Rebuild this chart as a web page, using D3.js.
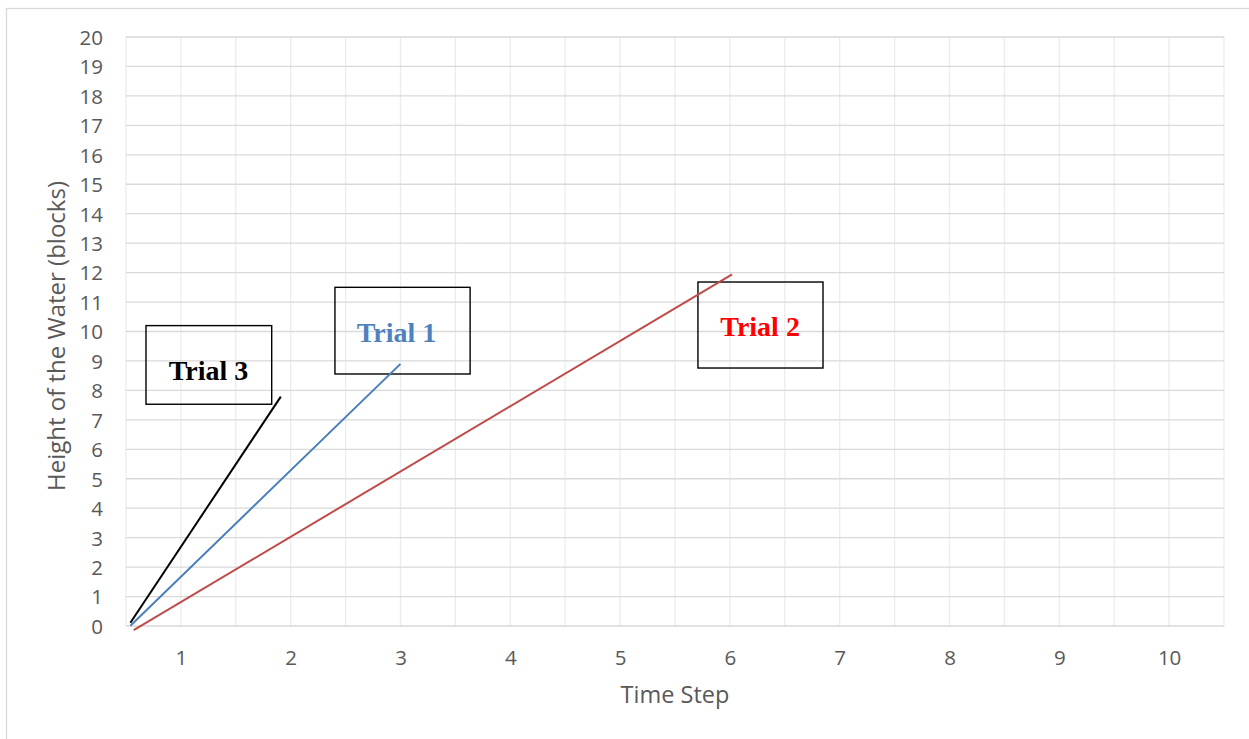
<!DOCTYPE html>
<html>
<head>
<meta charset="utf-8">
<script src="https://cdn.jsdelivr.net/npm/d3@7/dist/d3.min.js"></script>
<style>
  html, body { margin: 0; padding: 0; background: #fff; }
  svg { display: block; }
</style>
</head>
<body>
<svg id="chart" width="1249" height="739"></svg>
<script>
// ---- data ----
const categories = [1, 2, 3, 4, 5, 6, 7, 8, 9, 10];
const yTicks = d3.range(0, 21);
const seriesNames = ["Trial 1", "Trial 2", "Trial 3"];
const trial1 = [[0.54, 0.01], [3.0, 8.9]];
const trial2 = [[0.57, -0.14], [6.02, 11.94]];
const trial3 = [[0.54, 0.11], [1.91, 7.79]];
// annotation boxes in data units: [x0, x1, yTop, yBottom, textX, textY]
const annotTrial1 = [2.403, 3.634, 11.50, 8.557, 2.964, 9.654];
const annotTrial2 = [5.709, 6.848, 11.68, 8.76, 6.275, 9.847];
const annotTrial3 = [0.682, 1.827, 10.2, 7.53, 1.252, 8.353];
const xTitle = "Time Step";
const yTitle = "Height of the Water (blocks)";

// ---- layout ----
const svg = d3.select("#chart");
const pLeft = 126, pRight = 1224, pTop = 37, pBottom = 626;
const x = d3.scaleLinear().domain([0.5, 10.5]).range([pLeft, pRight]);
const y = d3.scaleLinear().domain([0, 20]).range([pBottom, pTop]);

// outer chart border
svg.append("rect").attr("x", 6.5).attr("y", 8.5).attr("width", 1400).attr("height", 900)
  .attr("fill", "none").attr("stroke", "#d9d9d9").attr("stroke-width", 1.3);

// vertical gridlines
const vGrid = d3.range(0.5, 10.51, 0.5);
svg.append("g").selectAll("line").data(vGrid).join("line")
  .attr("x1", d => x(d)).attr("x2", d => x(d))
  .attr("y1", pTop).attr("y2", pBottom)
  .attr("stroke", "#ececec").attr("stroke-width", 1.3);

// horizontal gridlines
svg.append("g").selectAll("line").data(yTicks).join("line")
  .attr("x1", pLeft).attr("x2", pRight)
  .attr("y1", d => y(d)).attr("y2", d => y(d))
  .attr("stroke", "#d9d9d9").attr("stroke-width", 1.3);

// y axis labels
const yAxis = d3.axisLeft(y).tickValues(yTicks).tickSize(0).tickPadding(0);
const gy = svg.append("g").attr("transform", `translate(${103},0)`).call(yAxis);
gy.select(".domain").remove();
gy.selectAll("text").attr("font-family", "'Open Sans', sans-serif").attr("font-size", 20.5)
  .attr("fill", "#595959").attr("dy", "0.36em");

// x axis labels
const xAxis = d3.axisBottom(x).tickValues(categories).tickSize(0).tickPadding(0).tickFormat(d3.format("d"));
const gx = svg.append("g").attr("transform", `translate(0,${650})`).call(xAxis);
gx.select(".domain").remove();
gx.selectAll("text").attr("font-family", "'Open Sans', sans-serif").attr("font-size", 20.5)
  .attr("fill", "#595959").attr("dy", "0.72em");

// axis titles
svg.append("text").attr("x", (pLeft + pRight) / 2).attr("y", 703)
  .attr("text-anchor", "middle").attr("font-family", "'Open Sans', sans-serif")
  .attr("font-size", 23.5).attr("fill", "#595959").text(xTitle);
svg.append("text").attr("transform", `translate(65,336) rotate(-90)`)
  .attr("text-anchor", "middle").attr("font-family", "'Open Sans', sans-serif")
  .attr("font-size", 24).attr("fill", "#595959").text(yTitle);

// annotation boxes
const annots = [
  { a: annotTrial3, name: seriesNames[2], color: "#000000" },
  { a: annotTrial1, name: seriesNames[0], color: "#4f81bd" },
  { a: annotTrial2, name: seriesNames[1], color: "#ff0000" }
];
annots.forEach(o => {
  const [x0, x1, yt, yb, tx, ty] = o.a;
  svg.append("rect").attr("x", x(x0)).attr("y", y(yt))
    .attr("width", x(x1) - x(x0)).attr("height", y(yb) - y(yt))
    .attr("fill", "none").attr("stroke", "#000").attr("stroke-width", 1.4);
  svg.append("text").attr("x", x(tx)).attr("y", y(ty)).attr("text-anchor", "middle")
    .attr("font-family", "'Liberation Serif', 'Times New Roman', serif")
    .attr("font-weight", "bold").attr("font-size", 28).attr("fill", o.color).text(o.name);
});

// series lines
const line = d3.line().x(d => x(d[0])).y(d => y(d[1]));
const series = [
  { data: trial2, color: "#be4b48" },
  { data: trial1, color: "#4a7ebb" },
  { data: trial3, color: "#000000" }
];
svg.append("g").selectAll("path").data(series).join("path")
  .attr("d", d => line(d.data)).attr("fill", "none")
  .attr("stroke", d => d.color).attr("stroke-width", 2);
</script>
</body>
</html>
